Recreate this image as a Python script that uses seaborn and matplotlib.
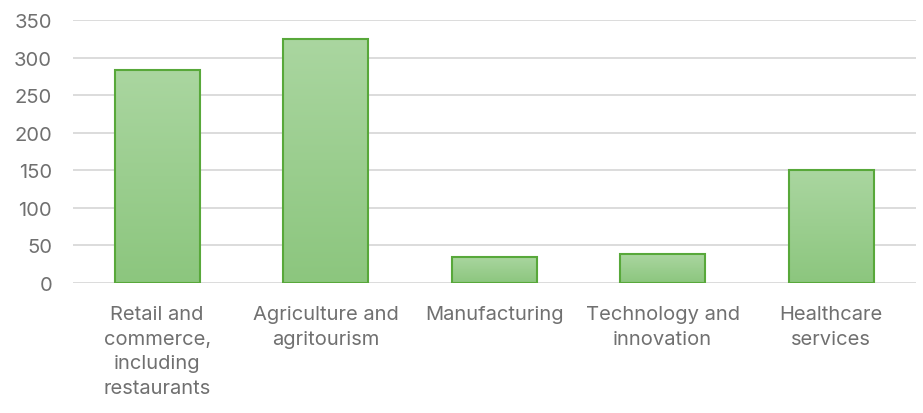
import matplotlib
matplotlib.use("Agg")
import matplotlib.pyplot as plt
import numpy as np
import pandas as pd
import seaborn as sns
from matplotlib.colors import LinearSegmentedColormap

categories = [
    "Retail and\ncommerce,\nincluding\nrestaurants",
    "Agriculture and\nagritourism",
    "Manufacturing",
    "Technology and\ninnovation",
    "Healthcare\nservices",
]
values = [284, 325, 35, 38, 150]
y_ticks = [0, 50, 100, 150, 200, 250, 300, 350]

df = pd.DataFrame({"sector": categories, "count": values})

sns.set_theme(style="white")
plt.rcParams["font.family"] = ["Inter", "DejaVu Sans"]

fig = plt.figure(figsize=(9.23, 4.14), dpi=100)
ax = fig.add_axes([0.079, 0.314, 0.913, 0.635])

sns.barplot(data=df, x="sector", y="count", ax=ax, width=0.505,
            color="#97cc89", edgecolor="#58a83a", linewidth=1.5, zorder=3)

# vertical light-to-dark green gradient inside each bar
grad_cmap = LinearSegmentedColormap.from_list("g", ["#aad6a0", "#8cc67e"])
grad = np.linspace(0, 1, 256).reshape(-1, 1)
for patch in ax.patches:
    x0, y0 = patch.get_x(), patch.get_y()
    w, h = patch.get_width(), patch.get_height()
    im = ax.imshow(grad, cmap=grad_cmap, aspect="auto",
                   extent=[x0, x0 + w, y0, y0 + h], origin="upper", zorder=3.5)
    im.set_clip_path(patch)
    patch.set_zorder(4)
    patch.set_facecolor("none")

ax.set_xlim(-0.5, len(categories) - 0.5)
ax.set_ylim(0, 350)
ax.set_yticks(y_ticks)
ax.yaxis.grid(True, color="#d9d9d9", linewidth=1.3, zorder=0)
ax.set_axisbelow(True)
for s in ax.spines.values():
    s.set_visible(False)
ax.tick_params(axis="both", length=0, colors="#707070", labelsize=14.5)
ax.tick_params(axis="x", pad=16)
ax.tick_params(axis="y", pad=15)
for lbl in ax.get_xticklabels():
    lbl.set_linespacing(1.47)
ax.set_xlabel("")
ax.set_ylabel("")

fig.savefig("out.png", dpi=100)
